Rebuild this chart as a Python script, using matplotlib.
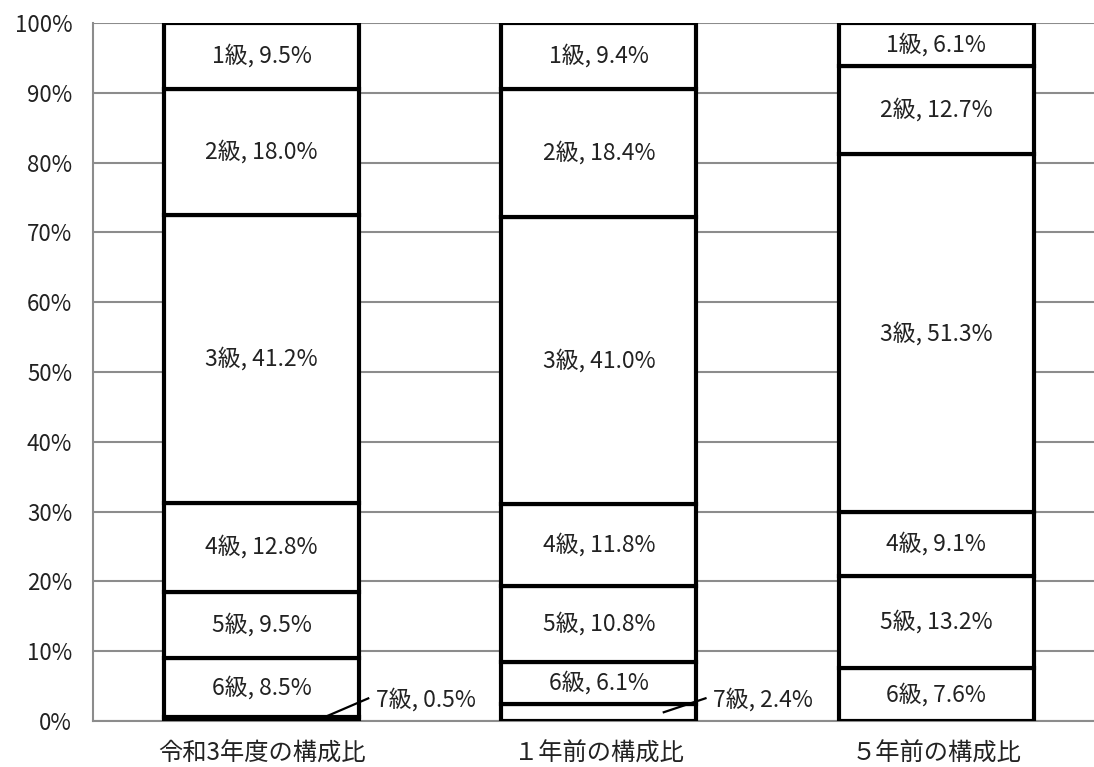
import numpy as np
import matplotlib.pyplot as plt

plt.rcParams['font.family'] = ['Noto Sans CJK JP', 'DejaVu Sans']

categories = ['令和3年度の構成比', '１年前の構成比', '５年前の構成比']
grades = ['7級', '6級', '5級', '4級', '3級', '2級', '1級']
# bottom (7級) to top (1級), percent
values = {
    '令和3年度の構成比': [0.5, 8.5, 9.5, 12.8, 41.2, 18.0, 9.5],
    '１年前の構成比': [2.4, 6.1, 10.8, 11.8, 41.0, 18.4, 9.4],
    '５年前の構成比': [0.0, 7.6, 13.2, 9.1, 51.3, 12.7, 6.1],
}
yticks = np.arange(0, 101, 10)

fig = plt.figure(figsize=(10.94, 7.67), dpi=100)
ax = fig.add_axes([0.085, 0.06, 0.925, 0.91])

width = 0.578
x = np.arange(len(categories))
for i, cat in enumerate(categories):
    vals = np.array(values[cat])
    share = vals / vals.sum() * 100  # 100% stacked
    bottoms = np.concatenate([[0], np.cumsum(share)[:-1]])
    for g, v, s, b in zip(grades, vals, share, bottoms):
        ax.bar(x[i], s, width, bottom=b, color='white', edgecolor='black',
               linewidth=3, zorder=3)
        label = f'{g}, {v:.1f}%'
        if g == '7級':
            if v == 0:
                continue
            # leader line out to the right of the bar
            x0 = x[i] + width / 2 - 0.1
            x1 = x[i] + width / 2 + 0.03
            ax.plot([x0, x1], [max(b + s / 2, 0.6), 3.3], color='black',
                    lw=1.6, zorder=4, solid_capstyle='butt')
            ax.text(x1 + 0.02, 3.1, label, ha='left', va='center',
                    fontsize=16.5, color='#222222', zorder=5)
        else:
            ax.text(x[i], b + s / 2, label, ha='center', va='center',
                    fontsize=16.5, color='#222222', zorder=5)

ax.set_xlim(-0.5, 2.5)
ax.set_ylim(0, 100)
ax.set_yticks(yticks)
ax.set_yticklabels([f'{t}%' for t in yticks], fontsize=16, color='#222222')
ax.set_xticks(x)
ax.set_xticklabels(categories, fontsize=17.5, color='#222222')
ax.tick_params(length=0)
ax.tick_params(axis='y', pad=15)
ax.tick_params(axis='x', pad=14)
ax.yaxis.grid(True, color='#8c8c8c', lw=1.5, zorder=0)
for side in ['top', 'right']:
    ax.spines[side].set_visible(False)
for side in ['left', 'bottom']:
    ax.spines[side].set_color('#8c8c8c')
    ax.spines[side].set_linewidth(1.5)

fig.savefig('out.png', dpi=100)
